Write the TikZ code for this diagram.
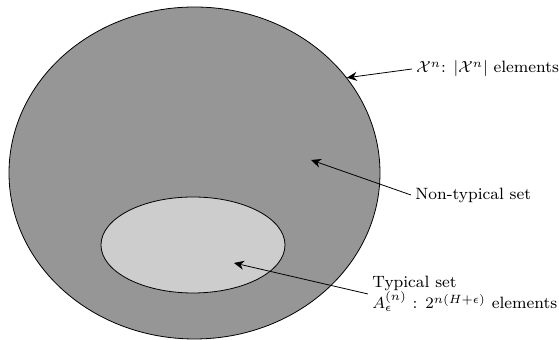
\documentclass[tikz,border=0pt]{standalone}
\usepackage{amsmath,amssymb}
\usepackage{tikz}
\usetikzlibrary{arrows.meta,positioning,shapes.geometric}
\definecolor{outergray}{RGB}{150,150,150}
\definecolor{innergray}{RGB}{205,205,205}
\tikzset{
  setshape/.style={ellipse, draw, thin, inner sep=0pt},
  ptrarrow/.style={->, >={Stealth[length=5pt,width=4.5pt]}, thin},
  setlabel/.style={anchor=west, inner sep=2pt, align=left,
                   font=\fontsize{8.2}{10}\selectfont}
}

\begin{document}
\begin{tikzpicture}[x=0.5pt, y=-0.5pt]
    \useasboundingbox (0,0) rectangle (559,340);

    % the two sets
    \node[setshape, fill=outergray, minimum width=185.5pt, minimum height=166pt] (outer) at (194.5,173) {};
    \node[setshape, fill=innergray, minimum width=92pt, minimum height=48pt] (inner) at (193,245) {};

    % labels
    \node[setlabel] (xlab) at (412,69) {$\mathcal{X}^n$: $|\mathcal{X}^n|$ elements};
    \node[setlabel] (nonlab) at (411,195) {Non-typical set};
    \node[setlabel] (typlab) at (368,294) {Typical set\\[-1pt]
      $A_\epsilon^{(n)}$ : $2^{n(H+\epsilon)}$ elements};

    \coordinate (nontip) at (311,160);
    \coordinate (typtip) at (234,263);

    % pointers
    \draw[ptrarrow] (xlab.west) -- (outer.32);
    \draw[ptrarrow] (nonlab.west) -- (nontip);
    \draw[ptrarrow] (typlab.west) -- (typtip);
\end{tikzpicture}
\end{document}
